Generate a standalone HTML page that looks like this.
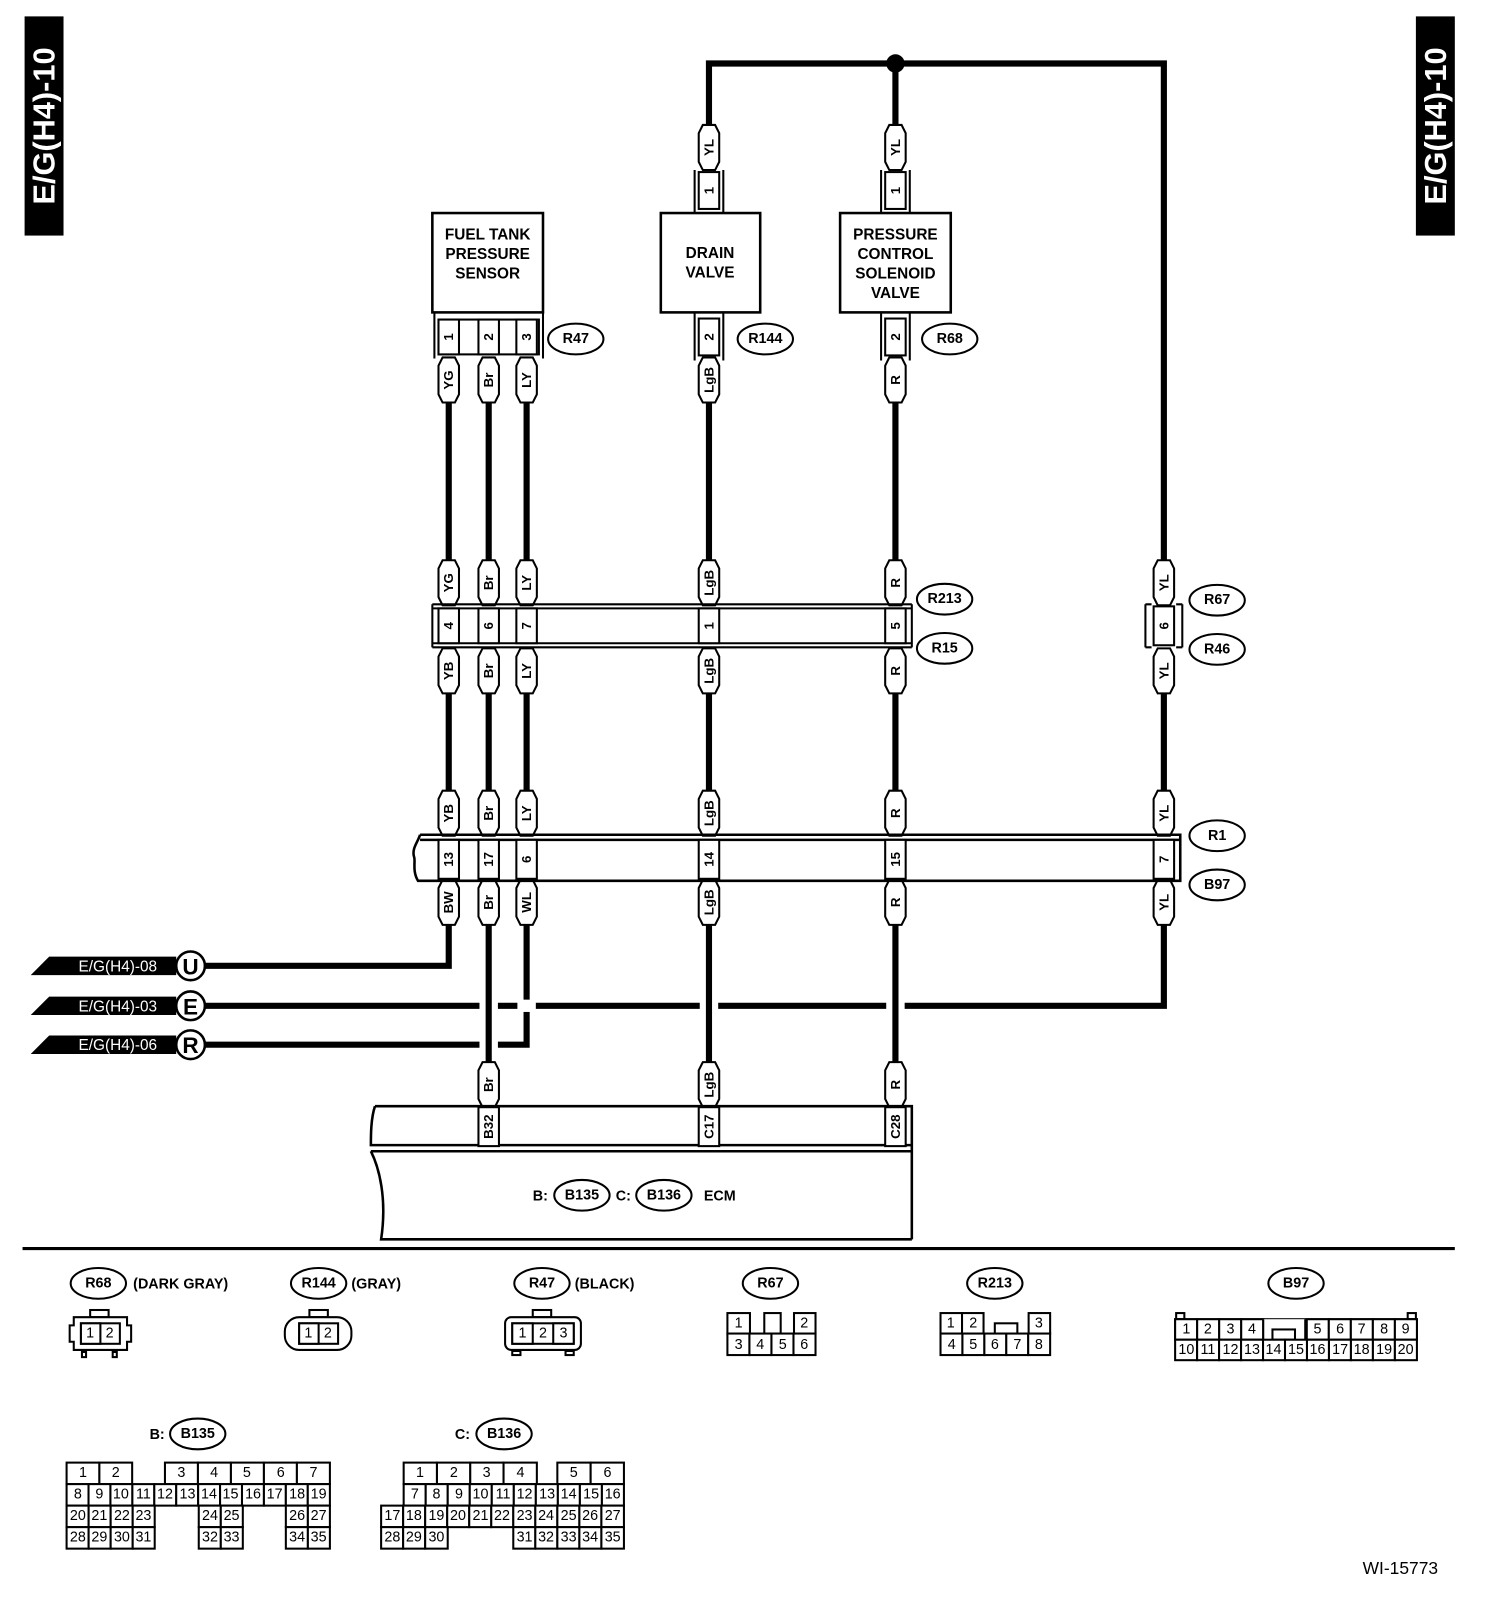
<!DOCTYPE html>
<html><head><meta charset="utf-8"><style>
html,body{margin:0;padding:0;background:#fff;}
svg{display:block}
text{font-family:"Liberation Sans",sans-serif;font-weight:bold;fill:#000}
.t path{fill:#fff;stroke:#000;stroke-width:2}
.t text{font-size:13px;text-anchor:middle;dominant-baseline:central}
.p rect{fill:#fff;stroke:#000;stroke-width:2}
.p text{font-size:13px;text-anchor:middle;dominant-baseline:central}
.w{stroke:#000;stroke-width:6;fill:none}
.o ellipse{fill:#fff;stroke:#000;stroke-width:2}
.o text{font-size:14px;text-anchor:middle;dominant-baseline:central}
.g rect{fill:#fff;stroke:#000;stroke-width:2}
.g text{font-size:14px;font-weight:normal;text-anchor:middle;dominant-baseline:central}
</style></head><body>
<svg width="1504" height="1606" viewBox="0 0 1468 1568" preserveAspectRatio="none" xmlns="http://www.w3.org/2000/svg">
<!-- side labels -->
<rect x="24" y="16" width="38" height="214" fill="#000"/>
<text transform="translate(43,123) rotate(-90)" font-size="30" text-anchor="middle" dominant-baseline="central" style="fill:#fff">E/G(H4)-10</text>
<rect x="1382" y="16" width="38" height="214" fill="#000"/>
<text transform="translate(1401,123) rotate(-90)" font-size="30" text-anchor="middle" dominant-baseline="central" style="fill:#fff">E/G(H4)-10</text>

<!-- wires -->
<path class="w" d="M692,122 V62 H1136 V548"/>
<path class="w" d="M874,122 V62"/>
<circle cx="874" cy="62" r="9"/>
<g class="w">
<path d="M438,392 V548 M477,392 V548 M514,392 V548 M692,392 V548 M874,392 V548"/>
<path d="M438,676 V772 M477,676 V772 M514,676 V772 M692,676 V772 M874,676 V772 M1136,676 V772"/>
<path d="M438,903 V943 H200"/>
<path d="M1136,903 V982 H200"/>
<path d="M514,903 V1020 H200"/>
</g>
<g fill="#fff">
<rect x="468" y="976" width="18" height="12"/><rect x="505" y="976" width="18" height="12"/>
<rect x="683" y="976" width="18" height="12"/><rect x="865" y="976" width="18" height="12"/>
<rect x="468" y="1014" width="18" height="12"/>
</g>
<path class="w" d="M477,903 V1038 M692,903 V1038 M874,903 V1038"/>

<g class="t">
<g transform="translate(692,144)"><path d="M-10,-14 L-6,-22 L6,-22 L10,-14 L10,14 L6,22 L-6,22 L-10,14Z"/><text transform="rotate(-90)">YL</text></g>
<g transform="translate(874,144)"><path d="M-10,-14 L-6,-22 L6,-22 L10,-14 L10,14 L6,22 L-6,22 L-10,14Z"/><text transform="rotate(-90)">YL</text></g></g>
<g fill="none" stroke="#000" stroke-width="2">
<path d="M678,208 V166 M706,208 V166 M860,208 V166 M888,208 V166"/>
<path d="M678,305 V352 M706,305 V352 M860,305 V352 M888,305 V352"/>
</g>
<g class="p"><g transform="translate(692,186)"><rect x="-10" y="-18" width="20" height="36"/><text transform="rotate(-90)">1</text></g>
<g transform="translate(874,186)"><rect x="-10" y="-18" width="20" height="36"/><text transform="rotate(-90)">1</text></g>
<g transform="translate(692,329)"><rect x="-10" y="-18" width="20" height="36"/><text transform="rotate(-90)">2</text></g>
<g transform="translate(874,329)"><rect x="-10" y="-18" width="20" height="36"/><text transform="rotate(-90)">2</text></g></g>

<g fill="#fff" stroke="#000" stroke-width="2.5">
<rect x="422" y="208" width="108" height="97"/>
<rect x="645" y="208" width="97" height="97"/>
<rect x="820" y="208" width="108" height="97"/>
</g>
<g font-size="15" text-anchor="middle">
<text x="476" y="234">FUEL TANK</text><text x="476" y="253">PRESSURE</text><text x="476" y="272">SENSOR</text>
<text x="693" y="252">DRAIN</text><text x="693" y="271">VALVE</text>
<text x="874" y="234">PRESSURE</text><text x="874" y="253">CONTROL</text><text x="874" y="272">SOLENOID</text><text x="874" y="291">VALVE</text>
</g>
<path d="M424,305 V350 M530,305 V350" stroke="#000" stroke-width="2"/>
<rect x="428" y="312" width="98" height="34" fill="#fff" stroke="#000" stroke-width="2"/>
<g class="p">
<g transform="translate(438,329)"><rect x="-10" y="-17" width="20" height="34"/><text transform="rotate(-90)">1</text></g>
<g transform="translate(477,329)"><rect x="-10" y="-17" width="20" height="34"/><text transform="rotate(-90)">2</text></g>
<g transform="translate(514,329)"><rect x="-10" y="-17" width="20" height="34"/><text transform="rotate(-90)">3</text></g>
</g>

<g class="t">
<g transform="translate(438,371)"><path d="M-10,-14 L-6,-22 L6,-22 L10,-14 L10,14 L6,22 L-6,22 L-10,14Z"/><text transform="rotate(-90)">YG</text></g>
<g transform="translate(477,371)"><path d="M-10,-14 L-6,-22 L6,-22 L10,-14 L10,14 L6,22 L-6,22 L-10,14Z"/><text transform="rotate(-90)">Br</text></g>
<g transform="translate(514,371)"><path d="M-10,-14 L-6,-22 L6,-22 L10,-14 L10,14 L6,22 L-6,22 L-10,14Z"/><text transform="rotate(-90)">LY</text></g>
<g transform="translate(692,371)"><path d="M-10,-14 L-6,-22 L6,-22 L10,-14 L10,14 L6,22 L-6,22 L-10,14Z"/><text transform="rotate(-90)">LgB</text></g>
<g transform="translate(874,371)"><path d="M-10,-14 L-6,-22 L6,-22 L10,-14 L10,14 L6,22 L-6,22 L-10,14Z"/><text transform="rotate(-90)">R</text></g>
<g transform="translate(438,569)"><path d="M-10,-14 L-6,-22 L6,-22 L10,-14 L10,14 L6,22 L-6,22 L-10,14Z"/><text transform="rotate(-90)">YG</text></g>
<g transform="translate(477,569)"><path d="M-10,-14 L-6,-22 L6,-22 L10,-14 L10,14 L6,22 L-6,22 L-10,14Z"/><text transform="rotate(-90)">Br</text></g>
<g transform="translate(514,569)"><path d="M-10,-14 L-6,-22 L6,-22 L10,-14 L10,14 L6,22 L-6,22 L-10,14Z"/><text transform="rotate(-90)">LY</text></g>
<g transform="translate(692,569)"><path d="M-10,-14 L-6,-22 L6,-22 L10,-14 L10,14 L6,22 L-6,22 L-10,14Z"/><text transform="rotate(-90)">LgB</text></g>
<g transform="translate(874,569)"><path d="M-10,-14 L-6,-22 L6,-22 L10,-14 L10,14 L6,22 L-6,22 L-10,14Z"/><text transform="rotate(-90)">R</text></g>
<g transform="translate(1136,569)"><path d="M-10,-14 L-6,-22 L6,-22 L10,-14 L10,14 L6,22 L-6,22 L-10,14Z"/><text transform="rotate(-90)">YL</text></g>
<g transform="translate(438,655)"><path d="M-10,-14 L-6,-22 L6,-22 L10,-14 L10,14 L6,22 L-6,22 L-10,14Z"/><text transform="rotate(-90)">YB</text></g>
<g transform="translate(477,655)"><path d="M-10,-14 L-6,-22 L6,-22 L10,-14 L10,14 L6,22 L-6,22 L-10,14Z"/><text transform="rotate(-90)">Br</text></g>
<g transform="translate(514,655)"><path d="M-10,-14 L-6,-22 L6,-22 L10,-14 L10,14 L6,22 L-6,22 L-10,14Z"/><text transform="rotate(-90)">LY</text></g>
<g transform="translate(692,655)"><path d="M-10,-14 L-6,-22 L6,-22 L10,-14 L10,14 L6,22 L-6,22 L-10,14Z"/><text transform="rotate(-90)">LgB</text></g>
<g transform="translate(874,655)"><path d="M-10,-14 L-6,-22 L6,-22 L10,-14 L10,14 L6,22 L-6,22 L-10,14Z"/><text transform="rotate(-90)">R</text></g>
<g transform="translate(1136,655)"><path d="M-10,-14 L-6,-22 L6,-22 L10,-14 L10,14 L6,22 L-6,22 L-10,14Z"/><text transform="rotate(-90)">YL</text></g>
<g transform="translate(438,794)"><path d="M-10,-14 L-6,-22 L6,-22 L10,-14 L10,14 L6,22 L-6,22 L-10,14Z"/><text transform="rotate(-90)">YB</text></g>
<g transform="translate(477,794)"><path d="M-10,-14 L-6,-22 L6,-22 L10,-14 L10,14 L6,22 L-6,22 L-10,14Z"/><text transform="rotate(-90)">Br</text></g>
<g transform="translate(514,794)"><path d="M-10,-14 L-6,-22 L6,-22 L10,-14 L10,14 L6,22 L-6,22 L-10,14Z"/><text transform="rotate(-90)">LY</text></g>
<g transform="translate(692,794)"><path d="M-10,-14 L-6,-22 L6,-22 L10,-14 L10,14 L6,22 L-6,22 L-10,14Z"/><text transform="rotate(-90)">LgB</text></g>
<g transform="translate(874,794)"><path d="M-10,-14 L-6,-22 L6,-22 L10,-14 L10,14 L6,22 L-6,22 L-10,14Z"/><text transform="rotate(-90)">R</text></g>
<g transform="translate(1136,794)"><path d="M-10,-14 L-6,-22 L6,-22 L10,-14 L10,14 L6,22 L-6,22 L-10,14Z"/><text transform="rotate(-90)">YL</text></g>
<g transform="translate(438,881)"><path d="M-10,-14 L-6,-22 L6,-22 L10,-14 L10,14 L6,22 L-6,22 L-10,14Z"/><text transform="rotate(-90)">BW</text></g>
<g transform="translate(477,881)"><path d="M-10,-14 L-6,-22 L6,-22 L10,-14 L10,14 L6,22 L-6,22 L-10,14Z"/><text transform="rotate(-90)">Br</text></g>
<g transform="translate(514,881)"><path d="M-10,-14 L-6,-22 L6,-22 L10,-14 L10,14 L6,22 L-6,22 L-10,14Z"/><text transform="rotate(-90)">WL</text></g>
<g transform="translate(692,881)"><path d="M-10,-14 L-6,-22 L6,-22 L10,-14 L10,14 L6,22 L-6,22 L-10,14Z"/><text transform="rotate(-90)">LgB</text></g>
<g transform="translate(874,881)"><path d="M-10,-14 L-6,-22 L6,-22 L10,-14 L10,14 L6,22 L-6,22 L-10,14Z"/><text transform="rotate(-90)">R</text></g>
<g transform="translate(1136,881)"><path d="M-10,-14 L-6,-22 L6,-22 L10,-14 L10,14 L6,22 L-6,22 L-10,14Z"/><text transform="rotate(-90)">YL</text></g>
<g transform="translate(477,1059)"><path d="M-10,-14 L-6,-22 L6,-22 L10,-14 L10,14 L6,22 L-6,22 L-10,14Z"/><text transform="rotate(-90)">Br</text></g>
<g transform="translate(692,1059)"><path d="M-10,-14 L-6,-22 L6,-22 L10,-14 L10,14 L6,22 L-6,22 L-10,14Z"/><text transform="rotate(-90)">LgB</text></g>
<g transform="translate(874,1059)"><path d="M-10,-14 L-6,-22 L6,-22 L10,-14 L10,14 L6,22 L-6,22 L-10,14Z"/><text transform="rotate(-90)">R</text></g>
</g>

<g fill="none" stroke="#000" stroke-width="2">
<path d="M422,590 H890 M422,594 H890 M422,628 H890 M422,632 H890 M422,590 V632 M890,590 V632"/>
<path d="M1118,590 V632 M1154,590 V632 M1118,590 H1124 M1118,632 H1124 M1154,590 H1148 M1154,632 H1148"/>
</g>
<g class="p">
<g transform="translate(438,611)"><rect x="-10" y="-17" width="20" height="34"/><text transform="rotate(-90)">4</text></g>
<g transform="translate(477,611)"><rect x="-10" y="-17" width="20" height="34"/><text transform="rotate(-90)">6</text></g>
<g transform="translate(514,611)"><rect x="-10" y="-17" width="20" height="34"/><text transform="rotate(-90)">7</text></g>
<g transform="translate(692,611)"><rect x="-10" y="-17" width="20" height="34"/><text transform="rotate(-90)">1</text></g>
<g transform="translate(874,611)"><rect x="-10" y="-17" width="20" height="34"/><text transform="rotate(-90)">5</text></g>
<g transform="translate(1136,611)"><rect x="-10" y="-19" width="20" height="38"/><text transform="rotate(-90)">6</text></g>
</g>

<g fill="none" stroke="#000" stroke-width="2.5">
<path d="M410,815 H1152 V860 H408 C402,850 406,840 404,836 C402,828 408,822 410,815"/>
<path d="M410,820 H1152"/>
</g>
<g class="p">
<g transform="translate(438,839)"><rect x="-10" y="-19" width="20" height="38"/><text transform="rotate(-90)">13</text></g>
<g transform="translate(477,839)"><rect x="-10" y="-19" width="20" height="38"/><text transform="rotate(-90)">17</text></g>
<g transform="translate(514,839)"><rect x="-10" y="-19" width="20" height="38"/><text transform="rotate(-90)">6</text></g>
<g transform="translate(692,839)"><rect x="-10" y="-19" width="20" height="38"/><text transform="rotate(-90)">14</text></g>
<g transform="translate(874,839)"><rect x="-10" y="-19" width="20" height="38"/><text transform="rotate(-90)">15</text></g>
<g transform="translate(1136,839)"><rect x="-10" y="-19" width="20" height="38"/><text transform="rotate(-90)">7</text></g>
</g>

<g class="o">
<g transform="translate(562,331)"><ellipse rx="27" ry="15"/><text>R47</text></g>
<g transform="translate(747,331)"><ellipse rx="27" ry="15"/><text>R144</text></g>
<g transform="translate(927,331)"><ellipse rx="27" ry="15"/><text>R68</text></g>
<g transform="translate(922,585)"><ellipse rx="27" ry="15"/><text>R213</text></g>
<g transform="translate(922,633)"><ellipse rx="27" ry="15"/><text>R15</text></g>
<g transform="translate(1188,586)"><ellipse rx="27" ry="15"/><text>R67</text></g>
<g transform="translate(1188,634)"><ellipse rx="27" ry="15"/><text>R46</text></g>
<g transform="translate(1188,816)"><ellipse rx="27" ry="15"/><text>R1</text></g>
<g transform="translate(1188,864)"><ellipse rx="27" ry="15"/><text>B97</text></g>
</g>

<g>
<path d="M30,952 L48,934 H172 V952Z"/><text x="115" y="944" font-size="15" text-anchor="middle" dominant-baseline="central" style="fill:#fff;font-weight:normal">E/G(H4)-08</text>
<path d="M30,991 L48,973 H172 V991Z"/><text x="115" y="983" font-size="15" text-anchor="middle" dominant-baseline="central" style="fill:#fff;font-weight:normal">E/G(H4)-03</text>
<path d="M30,1029 L48,1011 H172 V1029Z"/><text x="115" y="1021" font-size="15" text-anchor="middle" dominant-baseline="central" style="fill:#fff;font-weight:normal">E/G(H4)-06</text>
</g>
<g fill="#fff" stroke="#000" stroke-width="2.5">
<circle cx="186" cy="943" r="14"/><circle cx="186" cy="982" r="14"/><circle cx="186" cy="1020" r="14"/>
</g>
<g font-size="22" text-anchor="middle" dominant-baseline="central">
<text x="186" y="944">U</text><text x="186" y="983">E</text><text x="186" y="1021">R</text>
</g>

<g fill="none" stroke="#000" stroke-width="2.5">
<path d="M366,1080 H890 V1210 M366,1080 C362,1092 362,1108 362,1118 H890"/>
<path d="M362,1124 H890 M362,1124 C370,1140 378,1170 372,1210 H890"/>
</g>
<g class="p">
<g transform="translate(477,1100)"><rect x="-10" y="-19" width="20" height="38"/><text transform="rotate(-90)">B32</text></g>
<g transform="translate(692,1100)"><rect x="-10" y="-19" width="20" height="38"/><text transform="rotate(-90)">C17</text></g>
<g transform="translate(874,1100)"><rect x="-10" y="-19" width="20" height="38"/><text transform="rotate(-90)">C28</text></g>
</g>
<text x="520" y="1172" font-size="14">B:</text>
<text x="601" y="1172" font-size="14">C:</text>
<text x="687" y="1172" font-size="14">ECM</text>
<g class="o">
<g transform="translate(568,1167)"><ellipse rx="27" ry="15"/><text>B135</text></g>
<g transform="translate(648,1167)"><ellipse rx="27" ry="15"/><text>B136</text></g>
</g>

<line x1="22" y1="1219" x2="1420" y2="1219" stroke="#000" stroke-width="3"/>

<g class="o">
<g transform="translate(96,1253)"><ellipse rx="27" ry="15"/><text>R68</text></g>
<g transform="translate(311,1253)"><ellipse rx="27" ry="15"/><text>R144</text></g>
<g transform="translate(529,1253)"><ellipse rx="27" ry="15"/><text>R47</text></g>
<g transform="translate(752,1253)"><ellipse rx="27" ry="15"/><text>R67</text></g>
<g transform="translate(971,1253)"><ellipse rx="27" ry="15"/><text>R213</text></g>
<g transform="translate(1265,1253)"><ellipse rx="27" ry="15"/><text>B97</text></g>
<g transform="translate(193,1400)"><ellipse rx="27" ry="15"/><text>B135</text></g>
<g transform="translate(492,1400)"><ellipse rx="27" ry="15"/><text>B136</text></g>
</g>
<g font-size="14">
<text x="130" y="1258">(DARK GRAY)</text>
<text x="343" y="1258">(GRAY)</text>
<text x="561" y="1258">(BLACK)</text>
<text x="146" y="1405">B:</text>
<text x="444" y="1405">C:</text>
</g>

<g fill="#fff" stroke="#000" stroke-width="2">
<rect x="88" y="1279" width="18" height="7"/>
<path d="M72,1286 H124 V1294 H128 V1310 H124 V1318 H72 V1310 H68 V1294 H72Z"/>
<rect x="80" y="1320" width="4" height="5"/><rect x="110" y="1320" width="4" height="5"/>
<rect x="302" y="1279" width="18" height="7"/>
<rect x="278" y="1286" width="65" height="32" rx="14"/>
<rect x="520" y="1279" width="18" height="7"/>
<rect x="493" y="1286" width="74" height="32" rx="6"/>
<rect x="500" y="1319" width="8" height="4"/><rect x="552" y="1319" width="8" height="4"/>
</g>
<g class="g">
<rect x="292" y="1292" width="38" height="20"/><rect x="292" y="1292" width="19" height="20"/>
<text x="301" y="1302">1</text><text x="320" y="1302">2</text>
<rect x="79" y="1292" width="38" height="20"/><rect x="79" y="1292" width="19" height="20"/>
<text x="88" y="1302">1</text><text x="107" y="1302">2</text>
<rect x="500" y="1292" width="60" height="20"/><rect x="500" y="1292" width="20" height="20"/><rect x="540" y="1292" width="20" height="20"/>
<text x="510" y="1302">1</text><text x="530" y="1302">2</text><text x="550" y="1302">3</text>
</g>

<g class="g">
<rect x="710" y="1282" width="22" height="20"/><text x="721" y="1292">1</text>
<rect x="746" y="1282" width="16" height="20"/>
<rect x="775" y="1282" width="21" height="20"/><text x="785" y="1292">2</text>
<rect x="710" y="1302" width="21.5" height="21"/><text x="721" y="1313">3</text>
<rect x="731.5" y="1302" width="21.5" height="21"/><text x="742" y="1313">4</text>
<rect x="753" y="1302" width="21.5" height="21"/><text x="764" y="1313">5</text>
<rect x="774.5" y="1302" width="21.5" height="21"/><text x="785" y="1313">6</text>
</g>
<g class="g">
<rect x="918" y="1282" width="21" height="20"/><text x="928" y="1292">1</text>
<rect x="939" y="1282" width="21" height="20"/><text x="950" y="1292">2</text>
<rect x="971" y="1292" width="22" height="10"/>
<rect x="1004" y="1282" width="21" height="20"/><text x="1014" y="1292">3</text>
<rect x="918" y="1302" width="21.4" height="21"/><text x="929" y="1313">4</text>
<rect x="939.4" y="1302" width="21.4" height="21"/><text x="950" y="1313">5</text>
<rect x="960.8" y="1302" width="21.4" height="21"/><text x="971" y="1313">6</text>
<rect x="982.2" y="1302" width="21.4" height="21"/><text x="993" y="1313">7</text>
<rect x="1003.6" y="1302" width="21.4" height="21"/><text x="1014" y="1313">8</text>
</g>
<g class="g">
<rect x="1148" y="1282" width="8" height="6"/><rect x="1374" y="1282" width="8" height="6"/>
<rect x="1147" y="1288" width="236" height="20"/>
<rect x="1147" y="1288" width="21.5" height="20"/><text x="1158" y="1298">1</text>
<rect x="1168.5" y="1288" width="21.5" height="20"/><text x="1179" y="1298">2</text>
<rect x="1190" y="1288" width="21.5" height="20"/><text x="1201" y="1298">3</text>
<rect x="1211.5" y="1288" width="21.5" height="20"/><text x="1222" y="1298">4</text>
<rect x="1233" y="1288" width="41" height="20" style="stroke:none"/>
<path d="M1233,1288 V1308 M1274,1288 V1308" stroke="#000" stroke-width="2"/>
<rect x="1242" y="1298" width="22" height="10"/>
<rect x="1275.5" y="1288" width="21.5" height="20"/><text x="1286" y="1298">5</text>
<rect x="1297" y="1288" width="21.5" height="20"/><text x="1308" y="1298">6</text>
<rect x="1318.5" y="1288" width="21.5" height="20"/><text x="1329" y="1298">7</text>
<rect x="1340" y="1288" width="21.5" height="20"/><text x="1351" y="1298">8</text>
<rect x="1361.5" y="1288" width="21.5" height="20"/><text x="1372" y="1298">9</text>
</g>
<g class="g" style="font-size:13px">
<rect x="1147" y="1308" width="21.45" height="20"/><text x="1158" y="1318">10</text>
<rect x="1168.45" y="1308" width="21.45" height="20"/><text x="1179" y="1318">11</text>
<rect x="1189.9" y="1308" width="21.45" height="20"/><text x="1201" y="1318">12</text>
<rect x="1211.35" y="1308" width="21.45" height="20"/><text x="1222" y="1318">13</text>
<rect x="1232.8" y="1308" width="21.45" height="20"/><text x="1243" y="1318">14</text>
<rect x="1254.25" y="1308" width="21.45" height="20"/><text x="1265" y="1318">15</text>
<rect x="1275.7" y="1308" width="21.45" height="20"/><text x="1286" y="1318">16</text>
<rect x="1297.15" y="1308" width="21.45" height="20"/><text x="1308" y="1318">17</text>
<rect x="1318.6" y="1308" width="21.45" height="20"/><text x="1329" y="1318">18</text>
<rect x="1340.05" y="1308" width="21.45" height="20"/><text x="1351" y="1318">19</text>
<rect x="1361.5" y="1308" width="21.5" height="20"/><text x="1372" y="1318">20</text>
</g>

<g class="g">
<rect x="65" y="1428" width="32" height="21"/><text x="81" y="1438">1</text>
<rect x="97" y="1428" width="32" height="21"/><text x="113" y="1438">2</text>
<rect x="161" y="1428" width="32.2" height="21"/><text x="177" y="1438">3</text>
<rect x="193.2" y="1428" width="32.2" height="21"/><text x="209" y="1438">4</text>
<rect x="225.4" y="1428" width="32.2" height="21"/><text x="241" y="1438">5</text>
<rect x="257.6" y="1428" width="32.2" height="21"/><text x="274" y="1438">6</text>
<rect x="289.8" y="1428" width="32.2" height="21"/><text x="306" y="1438">7</text>
<rect x="65" y="1449" width="21.4" height="21"/><text x="76" y="1459">8</text>
<rect x="86.4" y="1449" width="21.4" height="21"/><text x="97" y="1459">9</text>
<rect x="107.8" y="1449" width="21.4" height="21"/><text x="118" y="1459">10</text>
<rect x="129.2" y="1449" width="21.4" height="21"/><text x="140" y="1459">11</text>
<rect x="150.6" y="1449" width="21.4" height="21"/><text x="161" y="1459">12</text>
<rect x="172" y="1449" width="21.4" height="21"/><text x="183" y="1459">13</text>
<rect x="193.4" y="1449" width="21.4" height="21"/><text x="204" y="1459">14</text>
<rect x="214.8" y="1449" width="21.4" height="21"/><text x="225" y="1459">15</text>
<rect x="236.2" y="1449" width="21.4" height="21"/><text x="247" y="1459">16</text>
<rect x="257.6" y="1449" width="21.4" height="21"/><text x="268" y="1459">17</text>
<rect x="279" y="1449" width="21.4" height="21"/><text x="290" y="1459">18</text>
<rect x="300.4" y="1449" width="21.6" height="21"/><text x="311" y="1459">19</text>
<rect x="65" y="1470" width="21.5" height="21"/><text x="76" y="1480">20</text>
<rect x="86.5" y="1470" width="21.5" height="21"/><text x="97" y="1480">21</text>
<rect x="108" y="1470" width="21.5" height="21"/><text x="119" y="1480">22</text>
<rect x="129.5" y="1470" width="21.5" height="21"/><text x="140" y="1480">23</text>
<rect x="194" y="1470" width="21.5" height="21"/><text x="205" y="1480">24</text>
<rect x="215.5" y="1470" width="21.5" height="21"/><text x="226" y="1480">25</text>
<rect x="279" y="1470" width="21.5" height="21"/><text x="290" y="1480">26</text>
<rect x="300.5" y="1470" width="21.5" height="21"/><text x="311" y="1480">27</text>
<rect x="65" y="1491" width="21.5" height="21"/><text x="76" y="1501">28</text>
<rect x="86.5" y="1491" width="21.5" height="21"/><text x="97" y="1501">29</text>
<rect x="108" y="1491" width="21.5" height="21"/><text x="119" y="1501">30</text>
<rect x="129.5" y="1491" width="21.5" height="21"/><text x="140" y="1501">31</text>
<rect x="194" y="1491" width="21.5" height="21"/><text x="205" y="1501">32</text>
<rect x="215.5" y="1491" width="21.5" height="21"/><text x="226" y="1501">33</text>
<rect x="279" y="1491" width="21.5" height="21"/><text x="290" y="1501">34</text>
<rect x="300.5" y="1491" width="21.5" height="21"/><text x="311" y="1501">35</text>
</g>
<g class="g">
<rect x="394" y="1428" width="32.5" height="21"/><text x="410" y="1438">1</text>
<rect x="426.5" y="1428" width="32.5" height="21"/><text x="443" y="1438">2</text>
<rect x="459" y="1428" width="32.5" height="21"/><text x="475" y="1438">3</text>
<rect x="491.5" y="1428" width="32.5" height="21"/><text x="508" y="1438">4</text>
<rect x="544" y="1428" width="32.5" height="21"/><text x="560" y="1438">5</text>
<rect x="576.5" y="1428" width="32.5" height="21"/><text x="593" y="1438">6</text>
<rect x="394" y="1449" width="21.5" height="21"/><text x="405" y="1459">7</text>
<rect x="415.5" y="1449" width="21.5" height="21"/><text x="426" y="1459">8</text>
<rect x="437" y="1449" width="21.5" height="21"/><text x="448" y="1459">9</text>
<rect x="458.5" y="1449" width="21.5" height="21"/><text x="469" y="1459">10</text>
<rect x="480" y="1449" width="21.5" height="21"/><text x="491" y="1459">11</text>
<rect x="501.5" y="1449" width="21.5" height="21"/><text x="512" y="1459">12</text>
<rect x="523" y="1449" width="21.5" height="21"/><text x="534" y="1459">13</text>
<rect x="544.5" y="1449" width="21.5" height="21"/><text x="555" y="1459">14</text>
<rect x="566" y="1449" width="21.5" height="21"/><text x="577" y="1459">15</text>
<rect x="587.5" y="1449" width="21.5" height="21"/><text x="598" y="1459">16</text>
<rect x="372" y="1470" width="21.5" height="21"/><text x="383" y="1480">17</text>
<rect x="393.5" y="1470" width="21.5" height="21"/><text x="404" y="1480">18</text>
<rect x="415" y="1470" width="21.5" height="21"/><text x="426" y="1480">19</text>
<rect x="436.5" y="1470" width="21.5" height="21"/><text x="447" y="1480">20</text>
<rect x="458" y="1470" width="21.5" height="21"/><text x="469" y="1480">21</text>
<rect x="479.5" y="1470" width="21.5" height="21"/><text x="490" y="1480">22</text>
<rect x="501" y="1470" width="21.5" height="21"/><text x="512" y="1480">23</text>
<rect x="522.5" y="1470" width="21.5" height="21"/><text x="533" y="1480">24</text>
<rect x="544" y="1470" width="21.5" height="21"/><text x="555" y="1480">25</text>
<rect x="565.5" y="1470" width="21.5" height="21"/><text x="576" y="1480">26</text>
<rect x="587" y="1470" width="22" height="21"/><text x="598" y="1480">27</text>
<rect x="372" y="1491" width="21.5" height="21"/><text x="383" y="1501">28</text>
<rect x="393.5" y="1491" width="21.5" height="21"/><text x="404" y="1501">29</text>
<rect x="415" y="1491" width="22" height="21"/><text x="426" y="1501">30</text>
<rect x="501" y="1491" width="21.5" height="21"/><text x="512" y="1501">31</text>
<rect x="522.5" y="1491" width="21.5" height="21"/><text x="533" y="1501">32</text>
<rect x="544" y="1491" width="21.5" height="21"/><text x="555" y="1501">33</text>
<rect x="565.5" y="1491" width="21.5" height="21"/><text x="576" y="1501">34</text>
<rect x="587" y="1491" width="22" height="21"/><text x="598" y="1501">35</text>
</g>

<text x="1330" y="1537" font-size="17" style="font-weight:normal">WI-15773</text>
</svg>
</body></html>
